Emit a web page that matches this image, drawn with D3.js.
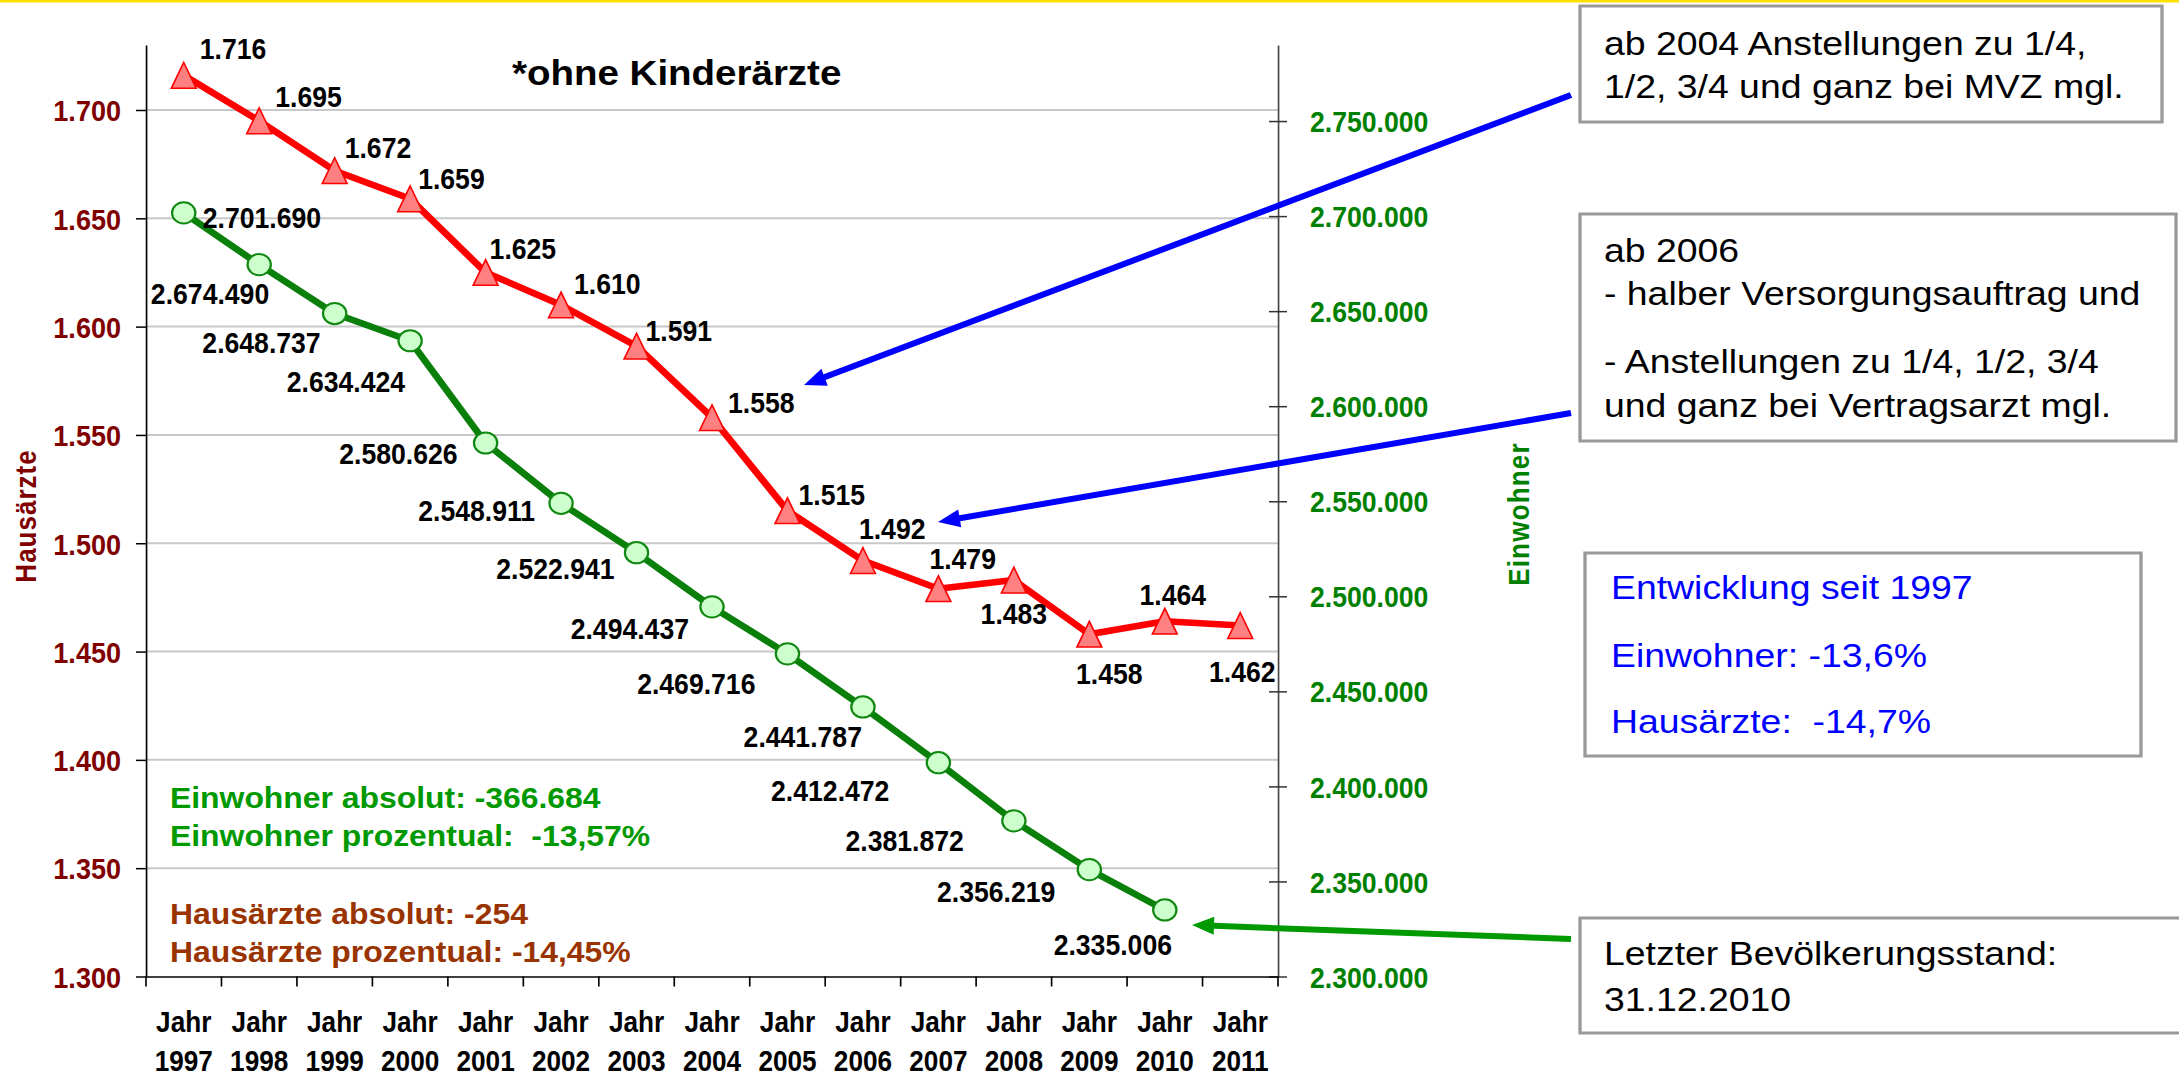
<!DOCTYPE html>
<html>
<head>
<meta charset="utf-8">
<script src="https://cdn.jsdelivr.net/npm/d3@7"></script>
<style>
  html, body { margin: 0; padding: 0; background: #fff; overflow: hidden; }
  text { white-space: pre; }
</style>
</head>
<body>
<svg id="chart"></svg>
<script>
const years = ['1997', '1998', '1999', '2000', '2001', '2002', '2003', '2004',
  '2005', '2006', '2007', '2008', '2009', '2010', '2011'];
const hausaerzte = [1716, 1695, 1672, 1659, 1625, 1610, 1591, 1558, 1515, 1492, 1479, 1483, 1458, 1464, 1462];
const einwohner = [2701690, 2674490, 2648737, 2634424, 2580626, 2548911, 2522941, 2494437,
  2469716, 2441787, 2412472, 2381872, 2356219, 2335006];
const leftTicks = [1300, 1350, 1400, 1450, 1500, 1550, 1600, 1650, 1700];
const rightTicks = [2300000, 2350000, 2400000, 2450000, 2500000, 2550000, 2600000, 2650000, 2700000, 2750000];

const title = '*ohne Kinderärzte';
const summaryEinwohner = ['Einwohner absolut: -366.684', 'Einwohner prozentual:  -13,57%'];
const summaryAerzte = ['Hausärzte absolut: -254', 'Hausärzte prozentual: -14,45%'];
const note2004 = ['ab 2004 Anstellungen zu 1/4,', '1/2, 3/4 und ganz bei MVZ mgl.'];
const note2006 = ['ab 2006', '- halber Versorgungsauftrag und', '- Anstellungen zu 1/4, 1/2, 3/4', 'und ganz bei Vertragsarzt mgl.'];
const noteTrend = ['Entwicklung seit 1997', 'Einwohner: -13,6%', 'Hausärzte:  -14,7%'];
const noteStand = ['Letzter Bevölkerungsstand:', '31.12.2010'];

// where each value label sits next to its point: [anchor, dx, dy] in screen px
const hLabelPos = [
  ['start', 16, -16], ['start', 16, -14], ['start', 10, -13], ['start', 8, -10], ['start', 4, -13],
  ['start', 13, -11], ['start', 9, -5], ['start', 16, -5], ['start', 11, -6], ['start', -4, -22],
  ['start', -9, -20], ['middle', 0, 44], ['middle', 20, 50], ['middle', 8, -16], ['middle', 2, 56]
];
const eLabelPos = [
  ['start', 19, 15], ['end', 10, 39], ['end', -14, 39], ['end', -5, 51], ['end', -28, 21],
  ['end', -26, 18], ['end', -22, 26], ['end', -23, 32], ['end', -32, 40], ['end', -1, 40],
  ['end', -49, 38], ['end', -50, 30], ['end', -34, 32], ['middle', -52, 45]
];

const W = 2179, H = 1076;
const SX = 1.1;        // the slide is stretched sideways
const NARROW = 0.82;   // narrow bold face for numbers
const ix = px => px / SX;
const FONT = '"Liberation Sans", Arial, Helvetica, sans-serif';

const de = d3.formatLocale({ decimal: ',', thousands: '.', grouping: [3], currency: ['', ' €'] });
const fmt = de.format(',d');

const svg = d3.select('#chart').attr('width', W).attr('height', H);
svg.append('rect').attr('width', W).attr('height', H).attr('fill', '#fff');
svg.append('rect').attr('width', W).attr('height', 2.5).attr('fill', '#ffe100');
const g = svg.append('g').attr('transform', `scale(${SX},1)`);

const x = d3.scaleBand().domain(years).range([ix(146), ix(1278)]);
const yL = d3.scaleLinear().domain([1300, 1730]).range([976.5, 45]);
const yR = d3.scaleLinear().domain([2300000, 2790000]).range([976.5, 45]);
const cx = d => x(d) + x.bandwidth() / 2;

function ntext(parent, tx, ty, str, anchor, size, color) {
  return parent.append('text')
    .attr('transform', `translate(${tx},${ty}) scale(${NARROW},1)`)
    .attr('text-anchor', anchor)
    .attr('fill', color)
    .style('font', `bold ${size}px ${FONT}`)
    .text(str);
}

const narrowLabels = sel => sel.each(function() {
  const t = d3.select(this);
  const tx = +t.attr('x') || 0;
  t.attr('x', 0).attr('transform', `translate(${tx},0) scale(${NARROW},1)`);
});

// grid
g.append('g').selectAll('line').data(leftTicks.slice(1)).join('line')
  .attr('x1', x.range()[0]).attr('x2', x.range()[1])
  .attr('y1', d => yL(d)).attr('y2', d => yL(d))
  .attr('stroke', '#c8c8c8').attr('stroke-width', 2);

// left axis
const axL = g.append('g').attr('transform', `translate(${x.range()[0]},0)`)
  .call(d3.axisLeft(yL).tickValues(leftTicks).tickFormat(fmt)
    .tickSize(ix(10)).tickSizeOuter(0).tickPadding(ix(15)));
axL.select('.domain').attr('stroke', '#000').attr('stroke-width', 1.5);
axL.selectAll('.tick line').attr('stroke', '#000').attr('stroke-width', 1.5);
axL.selectAll('.tick text').attr('fill', '#800000').attr('dy', '0.36em')
  .style('font', `bold 30px ${FONT}`).call(narrowLabels);

// right axis
const axR = g.append('g').attr('transform', `translate(${x.range()[1]},0)`)
  .call(d3.axisRight(yR).tickValues(rightTicks).tickFormat(fmt)
    .tickSize(ix(9)).tickSizeOuter(0).tickPadding(ix(23)));
axR.select('.domain').attr('stroke', '#444').attr('stroke-width', 1.5);
axR.selectAll('.tick line').attr('x1', -ix(9)).attr('stroke', '#333').attr('stroke-width', 1.5);
axR.selectAll('.tick text').attr('fill', '#008000').attr('dy', '0.36em')
  .style('font', `bold 29.5px ${FONT}`).call(narrowLabels);

// bottom axis
const axB = g.append('g').attr('transform', `translate(0,${yL.range()[0]})`)
  .call(d3.axisBottom(x).tickSize(0).tickSizeOuter(0).tickFormat(''));
axB.select('.domain').attr('stroke', '#000').attr('stroke-width', 1.5);
axB.selectAll('line.edge').data([...years.map(d => x(d)), x.range()[1]]).join('line')
  .attr('class', 'edge')
  .attr('x1', d => d).attr('x2', d => d).attr('y1', 0).attr('y2', 10)
  .attr('stroke', '#000').attr('stroke-width', 1.5);
years.forEach(d => {
  const t = axB.append('text')
    .attr('transform', `translate(${cx(d)},0) scale(${NARROW},1)`)
    .attr('text-anchor', 'middle').attr('fill', '#000')
    .style('font', `bold 29px ${FONT}`);
  t.append('tspan').attr('x', 0).attr('y', 55.5).text('Jahr');
  t.append('tspan').attr('x', 0).attr('y', 94.5).text(d);
});

// axis titles
g.append('text')
  .attr('transform', `translate(${ix(36)},516) rotate(-90)`)
  .attr('text-anchor', 'middle').attr('fill', '#800000')
  .attr('letter-spacing', 1)
  .style('font', `bold 26px ${FONT}`)
  .text('Hausärzte');
g.append('text')
  .attr('transform', `translate(${ix(1529)},514) rotate(-90)`)
  .attr('text-anchor', 'middle').attr('fill', '#008000')
  .attr('letter-spacing', 1.2)
  .style('font', `bold 26px ${FONT}`)
  .text('Einwohner');

// title
g.append('text').attr('x', ix(512)).attr('y', 85)
  .attr('fill', '#000').style('font', `bold 35px ${FONT}`).text(title);

// lines
g.append('path').datum(einwohner)
  .attr('d', d3.line().x((d, i) => cx(years[i])).y(d => yR(d)))
  .attr('fill', 'none').attr('stroke', '#0a800a').attr('stroke-width', 6.5).attr('stroke-linejoin', 'round');
g.append('path').datum(hausaerzte)
  .attr('d', d3.line().x((d, i) => cx(years[i])).y(d => yL(d)))
  .attr('fill', 'none').attr('stroke', '#ff0000').attr('stroke-width', 6.5).attr('stroke-linejoin', 'round');

// markers
const triangle = {
  draw(ctx, size) {
    const s = Math.sqrt(size);
    ctx.moveTo(0, -s / 2);
    ctx.lineTo(s * 0.44, s / 2);
    ctx.lineTo(-s * 0.44, s / 2);
    ctx.closePath();
  }
};
g.append('g').selectAll('path').data(hausaerzte).join('path')
  .attr('transform', (d, i) => `translate(${cx(years[i])},${yL(d)})`)
  .attr('d', d3.symbol(triangle, 25.7 * 25.7))
  .attr('fill', '#ff8080').attr('stroke', '#ff0000').attr('stroke-width', 1.5);
g.append('g').selectAll('circle').data(einwohner).join('circle')
  .attr('cx', (d, i) => cx(years[i])).attr('cy', d => yR(d)).attr('r', 10.6)
  .attr('fill', '#ccffcc').attr('stroke', '#118811').attr('stroke-width', 2);

// value labels
const labels = g.append('g');
hausaerzte.forEach((v, i) => {
  const [a, dx, dy] = hLabelPos[i];
  ntext(labels, cx(years[i]) + ix(dx), yL(v) + dy, fmt(v), a, 29.5, '#000');
});
einwohner.forEach((v, i) => {
  const [a, dx, dy] = eLabelPos[i];
  ntext(labels, cx(years[i]) + ix(dx), yR(v) + dy, fmt(v), a, 29.5, '#000');
});

// summary
const sum = g.append('g').style('font', `bold 29px ${FONT}`);
summaryEinwohner.forEach((s, i) => sum.append('text').attr('x', ix(170)).attr('y', [808, 846][i]).attr('fill', '#009900').text(s));
summaryAerzte.forEach((s, i) => sum.append('text').attr('x', ix(170)).attr('y', [924, 962][i]).attr('fill', '#993300').text(s));

// arrows
function arrow(x1, y1, x2, y2, color) {
  const len = Math.hypot(x2 - x1, y2 - y1);
  const ux = (x2 - x1) / len, uy = (y2 - y1) / len;
  const px = -uy, py = ux;
  const hl = 22, hw = 9;
  g.append('line')
    .attr('x1', ix(x1)).attr('y1', y1)
    .attr('x2', ix(x2 - ux * 16)).attr('y2', y2 - uy * 16)
    .attr('stroke', color).attr('stroke-width', 6);
  const pts = [[x2, y2], [x2 - ux * hl + px * hw, y2 - uy * hl + py * hw], [x2 - ux * hl - px * hw, y2 - uy * hl - py * hw]];
  g.append('path')
    .attr('d', 'M' + pts.map(p => `${ix(p[0])},${p[1]}`).join('L') + 'Z')
    .attr('fill', color);
}
arrow(1571, 95, 804, 385, '#0000ff');
arrow(1571, 413, 938, 522, '#0000ff');
arrow(1571, 939, 1192, 925, '#009900');

// note boxes
function box(x0, y0, x1, y1, lines, baselines, tx, color) {
  const b = g.append('g');
  b.append('rect').attr('x', ix(x0)).attr('y', y0).attr('width', ix(x1 - x0)).attr('height', y1 - y0)
    .attr('fill', '#fff').attr('stroke', '#999').attr('stroke-width', 3);
  lines.forEach((s, i) => b.append('text').attr('x', ix(tx)).attr('y', baselines[i])
    .attr('fill', color).style('font', `34px ${FONT}`).text(s));
}
box(1580, 6, 2162, 122, note2004, [55, 98], 1604, '#000');
box(1580, 214, 2176, 441, note2006, [262, 305, 373, 417], 1604, '#000');
box(1585, 553, 2141, 756, noteTrend, [599, 667, 733], 1611, '#0000ff');
box(1580, 918, 2190, 1033, noteStand, [965, 1011], 1604, '#000');
</script>
</body>
</html>
